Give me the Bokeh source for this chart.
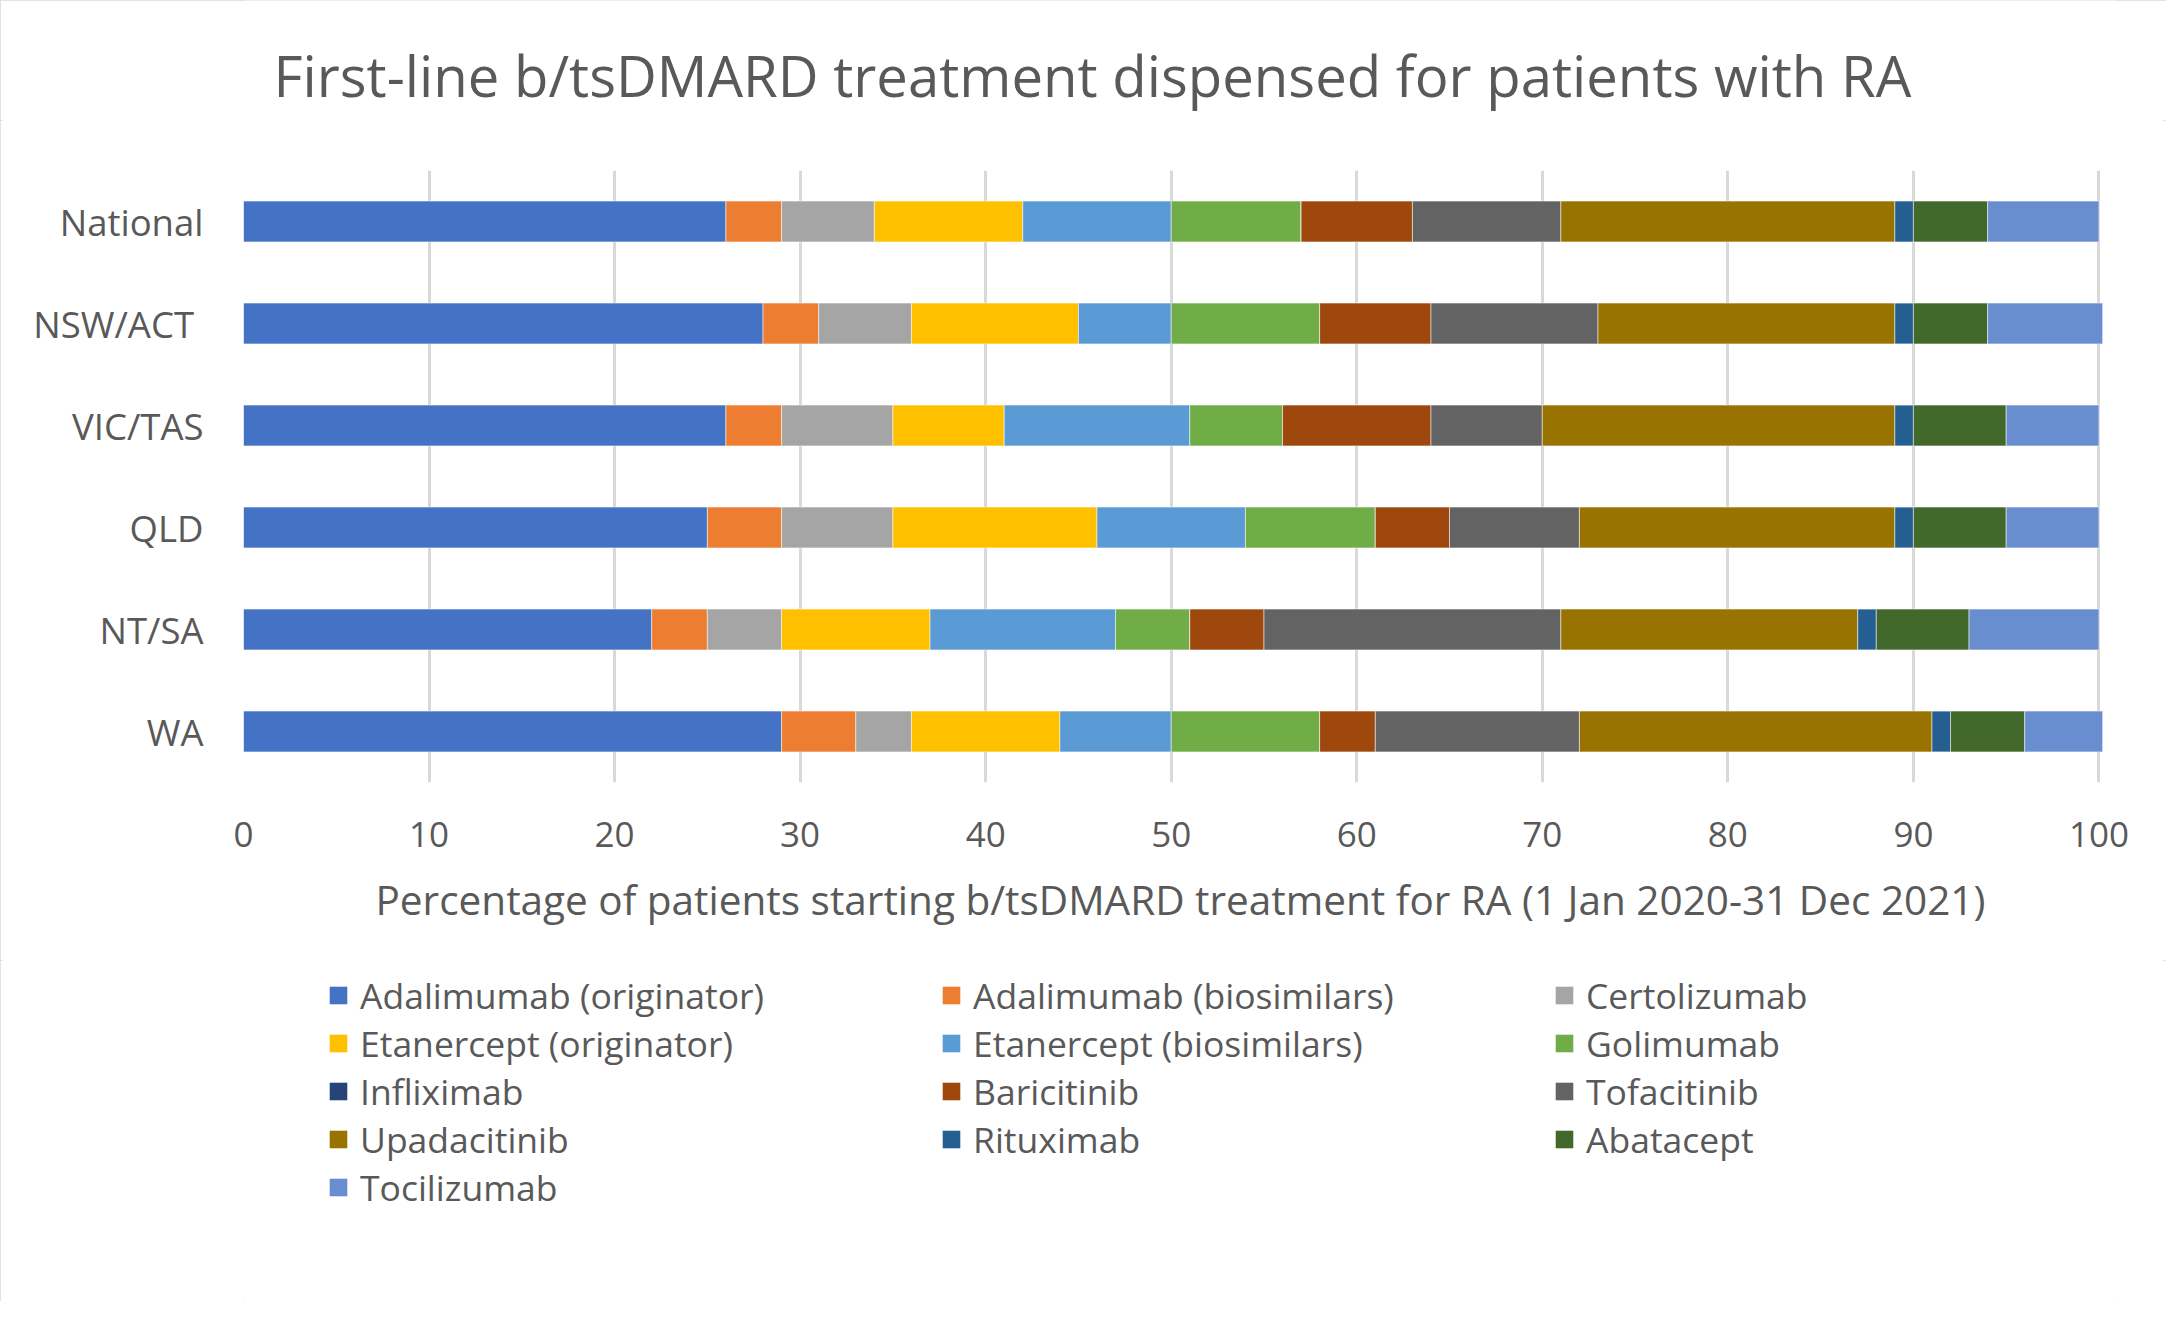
from bokeh.plotting import figure
from bokeh.models import (FactorRange, Range1d, FixedTicker, Legend, LegendItem, Label)
from bokeh.layouts import column
from bokeh.embed import file_html
from bokeh.resources import INLINE

# ---------------- data ----------------
regions = ["National", "NSW/ACT ", "VIC/TAS", "QLD", "NT/SA", "WA"]
series = ["Adalimumab (originator)", "Adalimumab (biosimilars)", "Certolizumab",
          "Etanercept (originator)", "Etanercept (biosimilars)", "Golimumab",
          "Infliximab", "Baricitinib", "Tofacitinib",
          "Upadacitinib", "Rituximab", "Abatacept", "Tocilizumab"]

adalimumab_orig = [26, 28, 26, 25, 22, 29]
adalimumab_bios = [3, 3, 3, 4, 3, 4]
certolizumab = [5, 5, 6, 6, 4, 3]
etanercept_orig = [8, 9, 6, 11, 8, 8]
etanercept_bios = [8, 5, 10, 8, 10, 6]
golimumab = [7, 8, 5, 7, 4, 8]
infliximab = [0, 0, 0, 0, 0, 0]
baricitinib = [6, 6, 8, 4, 4, 3]
tofacitinib = [8, 9, 6, 7, 16, 11]
upadacitinib = [18, 16, 19, 17, 16, 19]
rituximab = [1, 1, 1, 1, 1, 1]
abatacept = [4, 4, 5, 5, 5, 4]
tocilizumab = [6, 6.2, 5, 5, 7, 4.2]

x_ticks = [0, 10, 20, 30, 40, 50, 60, 70, 80, 90, 100]

colors = ["#4472C4", "#ED7D31", "#A5A5A5", "#FFC000", "#5B9BD5", "#70AD47",
          "#264478", "#9E480E", "#636363", "#997300", "#255E91", "#43682B", "#698ED0"]

values = [adalimumab_orig, adalimumab_bios, certolizumab, etanercept_orig, etanercept_bios,
          golimumab, infliximab, baricitinib, tofacitinib, upadacitinib, rituximab,
          abatacept, tocilizumab]

data = {"region": regions}
for name, vals in zip(series, values):
    data[name] = vals

TXT = "#595959"
FONT = "Open Sans"

W = 2166
H0 = 120                     # title strip
H1 = 840                     # chart
H2 = 1301 - H0 - H1          # legend strip
FL, FT, FW, FH = 243, 170, 1874, 612
RIGHT = W - FL - FW

# ---------------- title strip ----------------
p0 = figure(width=W, height=H0, output_backend="svg", toolbar_location=None,
            x_range=Range1d(0, 1), y_range=Range1d(0, 1),
            x_axis_location=None, y_axis_location=None,
            min_border_left=FL, min_border_right=RIGHT, min_border_top=0, min_border_bottom=0)
p0.grid.grid_line_color = None
p0.outline_line_color = None
p0.add_layout(Label(x=30, y=H0 - 74, x_units="screen", y_units="screen",
                    text="First-line b/tsDMARD treatment dispensed for patients with RA",
                    text_align="left", text_baseline="middle", text_color=TXT,
                    text_font=FONT, text_font_size="56.3px"))

# ---------------- main chart ----------------
p = figure(width=W, height=H1, output_backend="svg", toolbar_location=None,
           y_range=FactorRange(factors=regions[::-1]), x_range=Range1d(0, 101),
           min_border_left=FL, min_border_right=RIGHT,
           min_border_top=FT - H0, min_border_bottom=H1 - (FT - H0) - FH)

p.hbar_stack(series, y="region", height=0.4, color=colors, source=data,
             line_color="white", line_width=1, line_alpha=0.5)

p.xaxis.ticker = FixedTicker(ticks=x_ticks)
p.xgrid.ticker = FixedTicker(ticks=x_ticks)
p.xgrid.grid_line_color = "#D9D9D9"
p.xgrid.grid_line_width = 3
p.ygrid.grid_line_color = None
p.outline_line_color = None

for ax in (p.xaxis, p.yaxis):
    ax.axis_line_color = None
    ax.major_tick_line_color = None
    ax.minor_tick_line_color = None
    ax.major_tick_out = 0
    ax.major_tick_in = 0
    ax.major_label_text_color = TXT
    ax.major_label_text_font = FONT

p.xaxis.major_label_text_font_size = "35px"
p.yaxis.major_label_text_font_size = "36.5px"
p.xaxis.major_label_standoff = 39
p.yaxis.major_label_standoff = 40
p.xaxis.axis_label = "Percentage of patients starting b/tsDMARD treatment for RA (1 Jan 2020-31 Dec 2021)"
p.xaxis.axis_label_text_font = FONT
p.xaxis.axis_label_text_font_size = "40.5px"
p.xaxis.axis_label_text_font_style = "normal"
p.xaxis.axis_label_text_color = TXT
p.xaxis.axis_label_standoff = 22

# ---------------- legend strip ----------------
p2 = figure(width=W, height=H2, output_backend="svg", toolbar_location=None,
            x_range=Range1d(1000, 1100), y_range=FactorRange(factors=regions[::-1]),
            x_axis_location=None, y_axis_location=None,
            min_border_left=FL, min_border_right=RIGHT,
            min_border_top=0, min_border_bottom=0)
p2.grid.grid_line_color = None
p2.outline_line_color = None
legend_renderers = p2.hbar_stack(series, y="region", height=0, fill_color=colors,
                                 line_color=None, source=data)

ROW = 35.5 * 1.362
LEG_H = 5 * ROW
top_in_p2 = (993 - ROW / 2) - H0 - H1
items = [LegendItem(label=name, renderers=[r]) for name, r in zip(series, legend_renderers)]
legend = Legend(items=items, orientation="horizontal", ncols=3,
                location=(84, round(H2 - LEG_H - top_in_p2)), padding=0, margin=0, spacing=0,
                glyph_width=22, glyph_height=22, label_standoff=11,
                label_width=580, label_height=30,
                label_text_font=FONT, label_text_font_size="35.5px", label_text_color=TXT,
                border_line_color=None, background_fill_alpha=0)
p2.add_layout(legend, "center")

layout = column(p0, p, p2, spacing=0,
                styles={"outline": "3px solid #D9D9D9", "outline-offset": "-3px"})
open("out.html", "w").write(file_html(layout, INLINE))
